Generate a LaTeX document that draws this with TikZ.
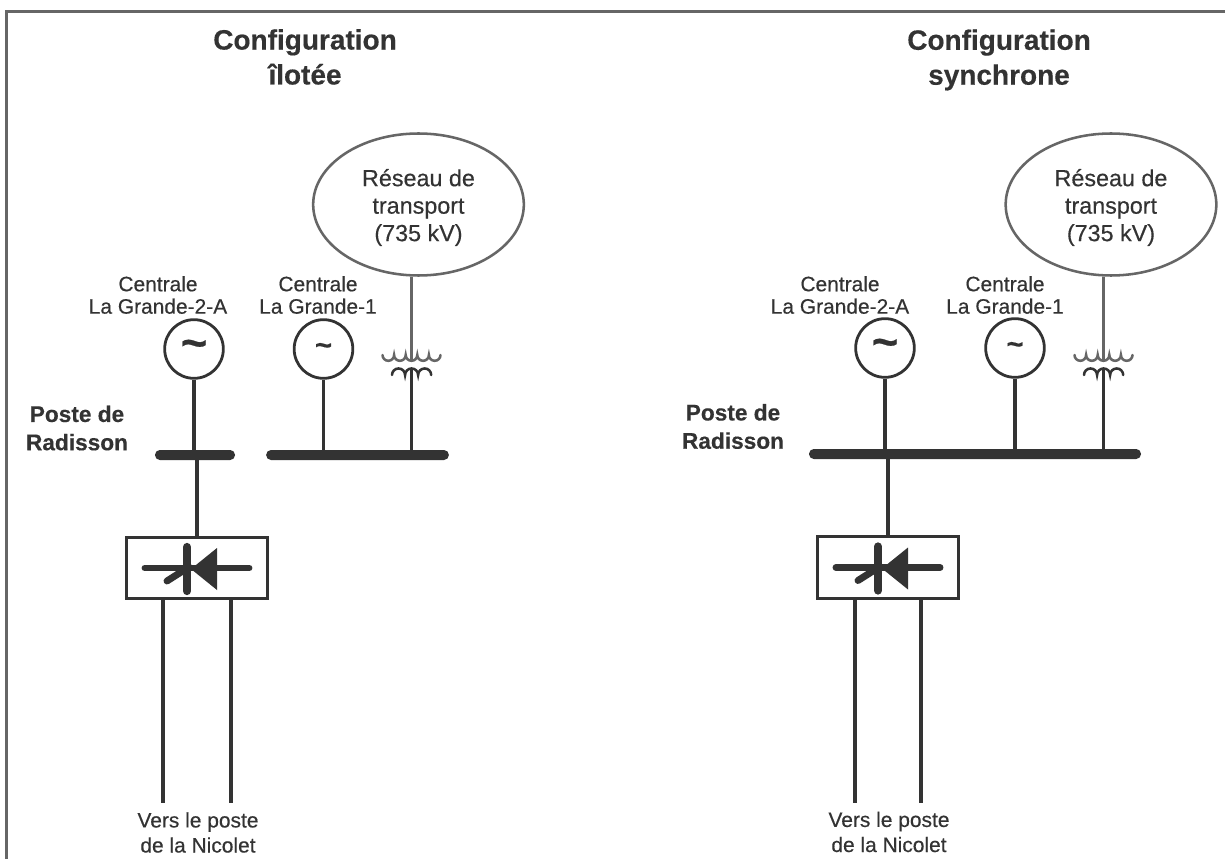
\documentclass[tikz,border=0pt]{standalone}
\usepackage{fontspec}
\setmainfont{Liberation Sans}
\newfontfamily\scanplain[FakeBold=0.35]{Liberation Sans}
\newfontfamily\scanbold[FakeBold=0.35]{Liberation Sans Bold}
\usetikzlibrary{shapes.geometric}
\definecolor{ink}{HTML}{333333}
\definecolor{soft}{HTML}{666666}
\tikzset{
  x=0.75pt,y=-0.75pt,
  wire/.style={draw=ink,line width=2.3pt},
  softwire/.style={draw=soft,line width=1.9pt},
  title/.style={text=ink,align=center,font=\scanbold\fontsize{21}{26.2}\selectfont,inner sep=0pt},
  poste/.style={text=ink,align=center,font=\scanbold\fontsize{17}{21.2}\selectfont,inner sep=0pt},
  plain/.style={text=ink,align=center,font=\scanplain\fontsize{15.7}{16.8}\selectfont,inner sep=0pt},
  reseau/.style={ellipse,draw=soft,line width=1.9pt,minimum width=158pt,minimum height=106.5pt,inner sep=0pt,text=ink,align=center,font=\scanplain\fontsize{17.5}{20.6}\selectfont},
  genA/.style={circle,draw=ink,line width=2.1pt,minimum size=44pt,inner sep=0pt,text=ink,font=\scanbold\fontsize{34}{34}\selectfont},
  genB/.style={circle,draw=ink,line width=2.1pt,minimum size=44pt,inner sep=0pt,text=ink,font=\scanbold\fontsize{22}{22}\selectfont},
  busbar/.style={rectangle,rounded corners=3.6pt,fill=ink,minimum height=7.5pt,inner sep=0pt},
  convbox/.style={rectangle,draw=ink,line width=2.3pt,minimum width=105.5pt,minimum height=46pt,inner sep=0pt},
  thyr/.pic={
    \draw[ink,line width=5.2pt,line cap=round] (-52,0) -- (52,0);
    \draw[ink,line width=6.2pt,line cap=round] (-10,-21) -- (-10,23);
    \draw[ink,line width=5.2pt,line cap=round] (-30,13) -- (-8,-1);
    \fill[ink] (-6,1) -- (20,-20) -- (20,22) -- cycle;
  },
  coilup/.pic={
    \draw[soft,line width=1.9pt,line cap=round] (-29,-6) arc[start angle=180,end angle=360,radius=4.35pt]
      arc[start angle=180,end angle=360,radius=4.35pt]
      arc[start angle=180,end angle=360,radius=4.35pt]
      arc[start angle=180,end angle=360,radius=4.35pt]
      arc[start angle=180,end angle=360,radius=4.35pt];
  },
  coildown/.pic={
    \draw[ink,line width=1.9pt,line cap=round] (-19.5,0) arc[start angle=180,end angle=0,radius=4.9pt]
      arc[start angle=180,end angle=0,radius=4.9pt]
      arc[start angle=180,end angle=0,radius=4.9pt];
  },
}
\begin{document}
\begin{tikzpicture}
\useasboundingbox (0,0) rectangle (1225,859);
\fill[white] (0,0) rectangle (1225,859);
\draw[soft,line width=2.2pt] (6.5,859) -- (6.5,11.5) -- (1225,11.5);

% ---------- left
\node[title] (t1) at (305,57) {Configuration\\îlotée};
\node[reseau] (r1) at (418.5,204.5) {};
\node[text=ink,align=center,font=\scanplain\fontsize{17.5}{20.6}\selectfont,inner sep=0pt] (r1t) at (418.5,207.5) {Réseau de\\transport\\(735 kV)};
\node[plain] (c1) at (158,295) {Centrale\\La Grande-2-A};
\node[plain] (c2) at (318,295) {Centrale\\La Grande-1};
\node[genA] (g1) at (194,349) {\textasciitilde};
\node[genB] (g2) at (323.5,349) {\textasciitilde};
\node[poste] (p1) at (77,428) {Poste de\\Radisson};
\node[busbar,minimum width=60pt] (b1) at (195,455) {};
\node[busbar,minimum width=137pt] (b2) at (357.5,455) {};
\coordinate (k1) at (411.5,361);
\coordinate (k1b) at (411.5,375);
\pic at (k1) {coilup};
\pic at (k1b) {coildown};
\node[convbox] (bx1) at (197,568) {};
\pic at (bx1.center) {thyr};
\coordinate (d1) at (163,803);
\coordinate (d2) at (231,803);
\node[plain,font=\scanplain\fontsize{15.7}{18.8}\selectfont] (v1) at (198,832.5) {Vers le poste\\de la Nicolet};
\draw[softwire] (r1.south -| k1) -- (k1);
\draw[wire] (g1) -- (g1.south |- b1.center);
\draw[wire] (g2) -- (g2.south |- b2.center);
\draw[wire] (k1b |- 0,368) -- (k1b |- b2.center);
\draw[wire] (bx1.north) -- (bx1.north |- b1.center);
\draw[wire] (d1 |- bx1.south) -- (d1);
\draw[wire] (d2 |- bx1.south) -- (d2);

% ---------- right
\node[title] (t2) at (999,60) {Configuration\\synchrone};
\node[reseau] (r2) at (1111,204.5) {};
\node[text=ink,align=center,font=\scanplain\fontsize{17.5}{20.6}\selectfont,inner sep=0pt] (r2t) at (1111,207.5) {Réseau de\\transport\\(735 kV)};
\node[plain] (c3) at (840,295) {Centrale\\La Grande-2-A};
\node[plain] (c4) at (1005,295) {Centrale\\La Grande-1};
\node[genA] (g3) at (885,348) {\textasciitilde};
\node[genB] (g4) at (1015,348) {\textasciitilde};
\node[poste] (p2) at (733,426.5) {Poste de\\Radisson};
\node[busbar,minimum width=249pt] (b3) at (975,454) {};
\coordinate (k2) at (1103.5,361);
\coordinate (k2b) at (1103.5,375);
\pic at (k2) {coilup};
\pic at (k2b) {coildown};
\node[convbox] (bx2) at (888,567.5) {};
\pic at (bx2.center) {thyr};
\coordinate (d3) at (855,803);
\coordinate (d4) at (921,803);
\node[plain,font=\scanplain\fontsize{15.7}{18.8}\selectfont] (v2) at (889,832) {Vers le poste\\de la Nicolet};
\draw[softwire] (r2.south -| k2) -- (k2);
\draw[wire] (g3) -- (g3.south |- b3.center);
\draw[wire] (g4) -- (g4.south |- b3.center);
\draw[wire] (k2b |- 0,368) -- (k2b |- b3.center);
\draw[wire] (bx2.north) -- (bx2.north |- b3.center);
\draw[wire] (d3 |- bx2.south) -- (d3);
\draw[wire] (d4 |- bx2.south) -- (d4);
\end{tikzpicture}
\end{document}
